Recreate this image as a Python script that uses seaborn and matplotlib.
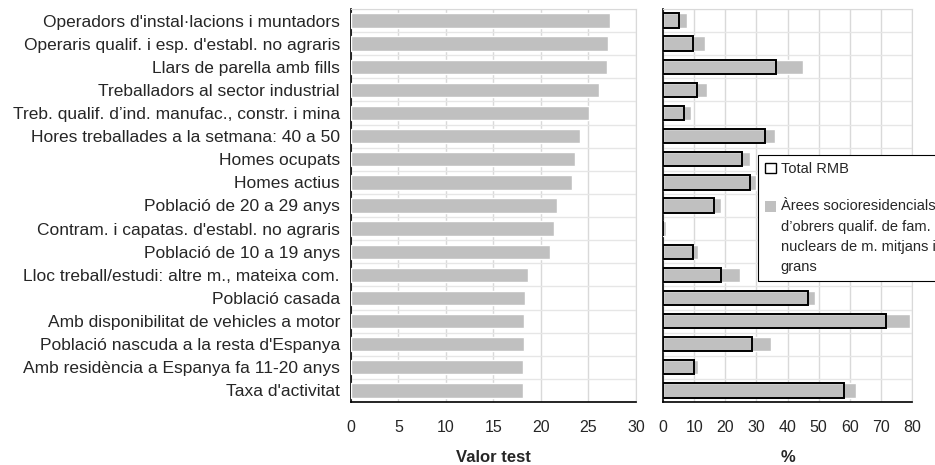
import numpy as np
import pandas as pd
import matplotlib.pyplot as plt
import seaborn as sns
from matplotlib.patches import Patch
from matplotlib.ticker import MultipleLocator, FixedLocator

# Perfil de l'àrea: valor test i percentatges vs. total RMB

categories = [
    "Operadors d'instal·lacions i muntadors",
    "Operaris qualif. i esp. d'establ. no agraris",
    "Llars de parella amb fills",
    "Treballadors al sector industrial",
    "Treb. qualif. d’ind. manufac., constr. i mina",
    "Hores treballades a la setmana: 40 a 50",
    "Homes ocupats",
    "Homes actius",
    "Població de 20 a 29 anys",
    "Contram. i capatas. d'establ. no agraris",
    "Població de 10 a 19 anys",
    "Lloc treball/estudi: altre m., mateixa com.",
    "Població casada",
    "Amb disponibilitat de vehicles a motor",
    "Població nascuda a la resta d'Espanya",
    "Amb residència a Espanya fa 11-20 anys",
    "Taxa d'activitat",
]

valor_test = [27.3, 27.1, 27.0, 26.1, 25.1, 24.1, 23.6, 23.3, 21.7, 21.4,
              20.9, 18.6, 18.3, 18.2, 18.2, 18.1, 18.1]

pct_area = [7.7, 13.6, 45.0, 14.2, 9.1, 36.0, 28.0, 30.0, 18.7, 1.0,
            11.3, 24.8, 48.8, 79.3, 34.7, 11.3, 62.0]

pct_total = [5.0, 9.5, 36.3, 10.8, 6.8, 32.7, 25.5, 27.9, 16.5, 0.0,
             9.5, 18.5, 46.7, 71.7, 28.7, 9.9, 58.2]

df = pd.DataFrame({"cat": categories, "valor": valor_test,
                   "area": pct_area, "total": pct_total})

sns.set_style("white")
plt.rcParams["font.family"] = ["Liberation Sans", "DejaVu Sans"]

GRAY = "#c0c0c0"
GRID = "#d9d9d9"

fig = plt.figure(figsize=(9.35, 4.65), dpi=100)
ax1 = fig.add_axes([0.3754, 0.1355, 0.3048, 0.8452])
ax2 = fig.add_axes([0.7091, 0.1355, 0.2663, 0.8452])

sns.barplot(data=df, x="valor", y="cat", color=GRAY, saturation=1,
            width=0.62, ax=ax1, zorder=3)

sns.barplot(data=df, x="area", y="cat", color=GRAY, saturation=1,
            width=0.62, ax=ax2, zorder=3)
sns.barplot(data=df, x="total", y="cat", color="black", fill=False,
            width=0.62, linewidth=1.4, ax=ax2, zorder=4)

n = len(categories)
for ax, xmax, step in [(ax1, 30, 5), (ax2, 80, 10)]:
    ax.set_xlim(0, xmax)
    ax.set_ylim(n - 0.5, -0.5)
    ax.xaxis.set_major_locator(MultipleLocator(step))
    ax.yaxis.set_minor_locator(FixedLocator(np.arange(-0.5, n, 1.0)))
    ax.grid(axis="x", which="major", color=GRID, linewidth=1, zorder=0)
    ax.grid(axis="y", which="minor", color="#e6e6e6", linewidth=1, zorder=0)
    ax.set_axisbelow(True)
    ax.set_ylabel("")
    ax.tick_params(axis="y", which="major", length=0, pad=8, labelsize=12.5)
    ax.tick_params(axis="y", which="minor", length=4, width=1, direction="out", color="black")
    ax.tick_params(axis="x", which="major", length=4, width=1, direction="out",
                   color="black", labelsize=11.5, pad=9)
    ax.spines["left"].set_color("black")
    ax.spines["bottom"].set_color("black")
    ax.spines["left"].set_linewidth(1.2)
    ax.spines["bottom"].set_linewidth(1.2)
    for s in ["top", "right"]:
        ax.spines[s].set_color(GRID)

ax2.set_yticklabels([])
ax1.set_xlabel("Valor test", fontweight="bold", fontsize=12, labelpad=11)
ax2.set_xlabel("%", fontweight="bold", fontsize=12, labelpad=11)

handles = [
    Patch(facecolor="white", edgecolor="black", linewidth=1),
    Patch(facecolor=GRAY, edgecolor="none"),
]
labels = [
    "Total RMB",
    "Àrees socioresidencials\nd’obrers qualif. de fam.\nnuclears de m. mitjans i\ngrans",
]
leg = fig.legend(handles, labels, loc="upper left", bbox_to_anchor=(0.8107, 0.667),
                 frameon=True, fancybox=False, framealpha=1, edgecolor="black",
                 handlelength=0.75, handleheight=0.75, handletextpad=0.3,
                 labelspacing=1.6, borderpad=0.5, borderaxespad=0,
                 prop={"size": 10.5})
leg.get_frame().set_linewidth(0.8)
for t in leg.get_texts():
    t.set_linespacing(1.55)
# move the grey key up next to the first line of its label
leg.legend_handles[1].set_y(leg.legend_handles[1].get_y() + 22)

fig.savefig("out.png", dpi=100)
